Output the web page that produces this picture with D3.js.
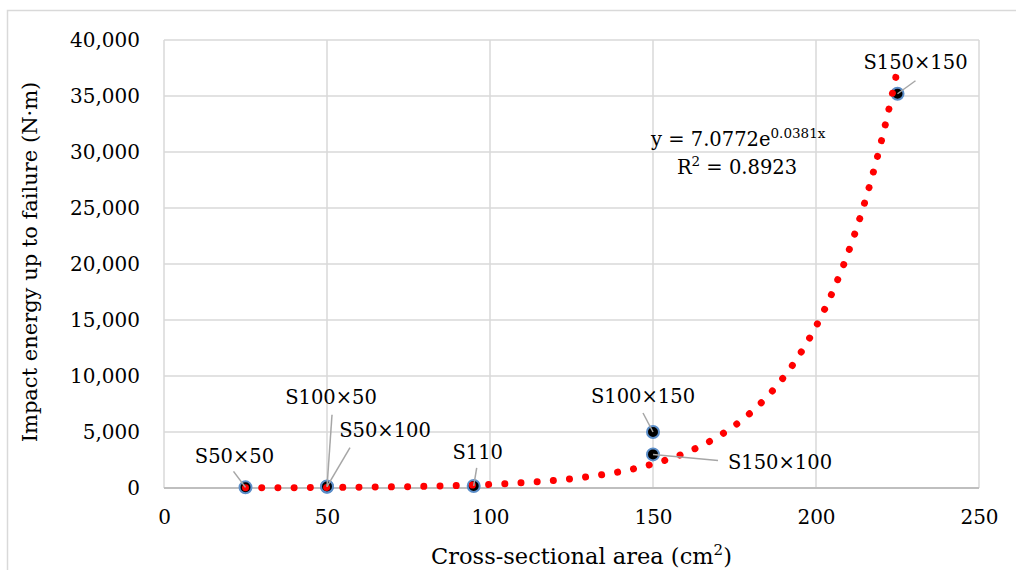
<!DOCTYPE html>
<html>
<head>
<meta charset="utf-8">
<script src="https://cdn.jsdelivr.net/npm/d3@7"></script>
<style>
  body { margin: 0; background: #fff; }
  svg text { font-family: "DejaVu Serif", "Liberation Serif", serif; fill: #000; }
</style>
</head>
<body>
<div id="chart"></div>
<script>
//Data
const specimens = ["S50×50", "S100×50", "S50×100", "S110", "S100×150", "S150×100", "S150×150"];
const areas = [25, 50, 50, 95, 150, 150, 225];
const energies = [60, 110, 130, 180, 5000, 3000, 35200];
const xTicks = [0, 50, 100, 150, 200, 250];
const yTicks = [0, 5000, 10000, 15000, 20000, 25000, 30000, 35000, 40000];
//Exponential trendline y = a * e^(b x), shown in the chart
const fitA = 7.0772, fitB = 0.0381;
const fitR2 = 0.8923;

//Label placement (pixel offsets from each marker)
const labelLayout = [
  { tx: -11, ty: -31, lx: -12, ly: -16 },
  { tx: 4, ty: -90, lx: 5, ly: -72 },
  { tx: 58, ty: -56, lx: 23, ly: -39 },
  { tx: 4, ty: -34, lx: 3, ly: -18 },
  { tx: -10, ty: -36, lx: -10, ly: -19 },
  { tx: 127, ty: 8, lx: 65, ly: 6 },
  { tx: 18, ty: -32, lx: 18, ly: -13 }
];

const W = 1016, H = 570;
const margin = { top: 40, right: 37, bottom: 82, left: 164 };
const width = W - margin.left - margin.right;
const height = H - margin.top - margin.bottom;

const svg = d3.select("#chart").append("svg")
  .attr("width", W).attr("height", H);

//Outer chart frame
svg.append("path")
  .attr("d", "M7.5," + H + " V10.5 H" + W)
  .attr("fill", "none").attr("stroke", "#d9d9d9").attr("stroke-width", 1.5);

const g = svg.append("g").attr("transform", "translate(" + margin.left + "," + margin.top + ")");

const x = d3.scaleLinear().domain([0, 250]).range([0, width]);
const y = d3.scaleLinear().domain([0, 40000]).range([height, 0]);

//Gridlines
g.append("g").selectAll("line").data(yTicks.slice(1)).enter().append("line")
  .attr("x1", 0).attr("x2", width)
  .attr("y1", d => y(d)).attr("y2", d => y(d))
  .attr("stroke", "#d9d9d9").attr("stroke-width", 1.5);
g.append("g").selectAll("line").data(xTicks).enter().append("line")
  .attr("x1", d => x(d)).attr("x2", d => x(d))
  .attr("y1", 0).attr("y2", height)
  .attr("stroke", "#d9d9d9").attr("stroke-width", 1.5);
//Baseline
g.append("line")
  .attr("x1", 0).attr("x2", width).attr("y1", height).attr("y2", height)
  .attr("stroke", "#bfbfbf").attr("stroke-width", 2);

//Axes
const xAxis = d3.axisBottom(x).tickValues(xTicks).tickSize(0).tickPadding(22);
const yAxis = d3.axisLeft(y).tickValues(yTicks).tickSize(0).tickPadding(24)
  .tickFormat(d3.format(","));
g.append("g").attr("transform", "translate(0," + height + ")").call(xAxis)
  .call(s => s.select(".domain").remove())
  .selectAll("text").style("font-size", "20px").style("font-family", null);
g.append("g").call(yAxis)
  .call(s => s.select(".domain").remove())
  .selectAll("text").style("font-size", "20px").style("font-family", null);

//Axis titles
g.append("text")
  .attr("transform", "rotate(-90)")
  .attr("x", -height / 2 + 2).attr("y", -127)
  .attr("text-anchor", "middle")
  .style("font-size", "21px")
  .text("Impact energy up to failure (N·m)");
const xt = g.append("text")
  .attr("x", width / 2 + 10).attr("y", height + 76)
  .attr("text-anchor", "middle")
  .style("font-size", "22.5px")
  .text("Cross-sectional area (cm");
xt.append("tspan").attr("dy", -9).style("font-size", "15px").text("2");
xt.append("tspan").attr("dy", 9).text(")");

const pts = areas.map((a, i) => ({ x: a, y: energies[i], name: specimens[i], lay: labelLayout[i] }));

//Markers
g.append("g").selectAll("circle").data(pts).enter().append("circle")
  .attr("cx", d => x(d.x)).attr("cy", d => y(d.y))
  .attr("r", 6)
  .attr("fill", "#000").attr("stroke", "#5b8ec9").attr("stroke-width", 2);

//Trendline (dotted) from fit equation
const trendX = d3.range(areas[0], d3.max(areas) + 0.01, 0.5);
const trendLine = d3.line()
  .x(d => x(d))
  .y(d => y(fitA * Math.exp(fitB * d)));
g.append("path")
  .datum(trendX)
  .attr("d", trendLine)
  .attr("fill", "none")
  .attr("stroke", "#ff0000")
  .attr("stroke-width", 7)
  .attr("stroke-linecap", "round")
  .attr("stroke-dasharray", "0.01,16.2");

//Leader lines and labels
g.append("g").selectAll("line").data(pts).enter().append("line")
  .attr("x1", d => x(d.x) + d.lay.lx).attr("y1", d => y(d.y) + d.lay.ly)
  .attr("x2", d => x(d.x)).attr("y2", d => y(d.y))
  .attr("stroke", "#a6a6a6").attr("stroke-width", 1.5);
g.append("g").selectAll("text").data(pts).enter().append("text")
  .attr("x", d => x(d.x) + d.lay.tx).attr("y", d => y(d.y) + d.lay.ty)
  .attr("dy", "0.35em")
  .attr("text-anchor", "middle")
  .style("font-size", "19.5px")
  .text(d => d.name);

//Equation
const eq = g.append("text")
  .attr("x", 651 - margin.left).attr("y", 146 - margin.top)
  .style("font-size", "19.5px")
  .text("y = " + fitA + "e");
eq.append("tspan").attr("dy", -8).style("font-size", "13.5px").text(fitB + "x");
const r2 = g.append("text")
  .attr("x", 737 - margin.left).attr("y", 174 - margin.top)
  .attr("text-anchor", "middle")
  .style("font-size", "19.5px")
  .text("R");
r2.append("tspan").attr("dy", -8).style("font-size", "13.5px").text("2");
r2.append("tspan").attr("dy", 8).text(" = " + fitR2);
</script>
</body>
</html>
